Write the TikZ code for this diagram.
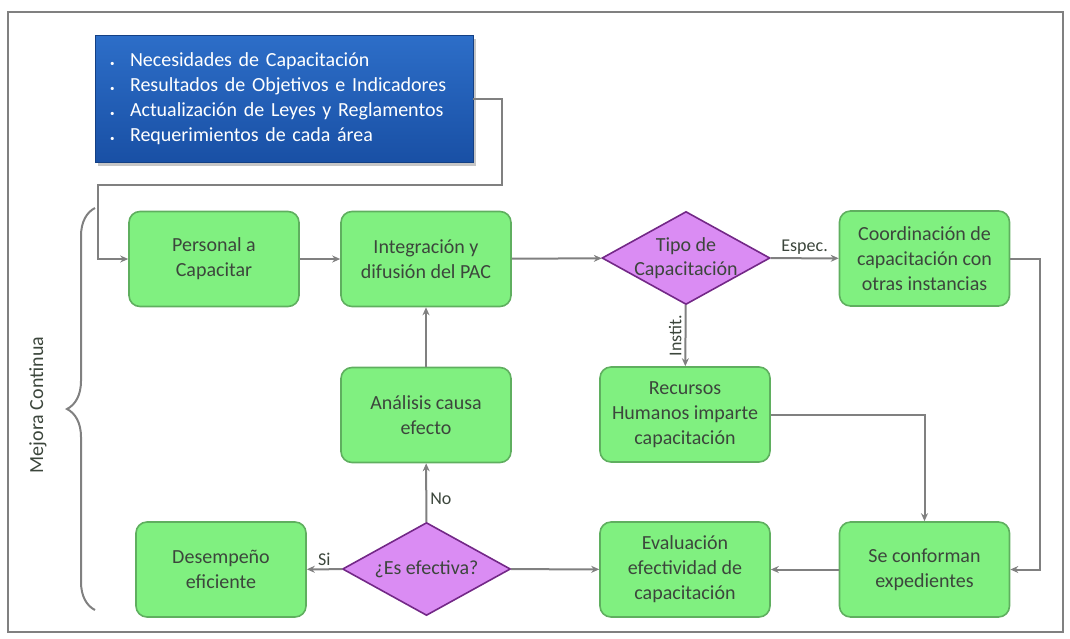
\documentclass[tikz,border=0pt]{standalone}
\usepackage{fontspec}
\setmainfont{Carlito}
\usetikzlibrary{arrows.meta,shapes.geometric,shadows,decorations.pathreplacing}

\definecolor{boxgreen}{RGB}{128,240,128}
\definecolor{boxedge}{RGB}{95,175,95}
\definecolor{diafill}{RGB}{218,140,243}
\definecolor{diaedge}{RGB}{115,40,135}
\definecolor{linegray}{RGB}{128,128,128}
\definecolor{bluetop}{RGB}{45,110,200}
\definecolor{bluebot}{RGB}{25,80,165}
\definecolor{textgray}{RGB}{60,70,60}

\tikzset{
  proc/.style={draw=boxedge, line width=1.6pt, fill=boxgreen, rounded corners=11pt,
    minimum width=170pt, minimum height=95pt, align=center, text=textgray,
    font=\fontsize{20}{25}\selectfont, inner sep=2pt},
  decide/.style={diamond, draw=diaedge, line width=1.6pt, fill=diafill,
    minimum width=168pt, minimum height=93pt, inner sep=0pt, align=center,
    text=textgray, font=\fontsize{20}{24}\selectfont},
  flow/.style={draw=linegray, line width=2pt, -{Stealth[length=8pt,width=7pt]}},
  lbl/.style={text=textgray, font=\fontsize{18}{20}\selectfont, inner sep=3pt},
}

\begin{document}
\begin{tikzpicture}[x=1pt,y=-1pt]
\useasboundingbox (0,0) rectangle (1070,638);
\draw[linegray, line width=1.5pt] (8,12) rectangle (1063,632);

\node[draw=bluebot!80!black, line width=0.8pt, top color=bluetop, bottom color=bluebot,
  drop shadow={opacity=0.45, shadow xshift=3pt, shadow yshift=-4pt},
  minimum width=378pt, minimum height=127pt, text width=348pt, align=left,
  inner sep=0pt, text=white, font=\fontsize{20}{25}\selectfont] (needs) at (284,98.5)
  {\makebox[20pt][l]{\small\textbullet}Necesidades de Capacitación\\
   \makebox[20pt][l]{\small\textbullet}Resultados de Objetivos e Indicadores\\
   \makebox[20pt][l]{\small\textbullet}Actualización de Leyes y Reglamentos\\
   \makebox[20pt][l]{\small\textbullet}Requerimientos de cada área};

\node[proc] (pers) at (214,259) {Personal a\\Capacitar};
\node[proc] (integ) at (426,259) {Integración y\\difusión del PAC};
\node[decide] (tipo) at (686,258) {\makebox[0pt]{Tipo de}\\\makebox[0pt]{Capacitación}};
\node[proc] (coord) at (924.5,258.5) {Coordinación de\\capacitación con\\otras instancias};
\node[proc] (rrhh) at (685,414.5) {Recursos\\Humanos imparte\\capacitación};
\node[proc] (causa) at (426,415) {Análisis causa\\efecto};
\node[proc] (expd) at (924.5,569.5) {Se conforman\\expedientes};
\node[proc] (evalu) at (685,569.5) {Evaluación\\efectividad de\\capacitación};
\node[decide] (efect) at (426.5,569) {\makebox[0pt]{¿Es efectiva?}};
\node[proc] (desemp) at (221,569.5) {Desempeño\\eficiente};

\draw[flow] (needs.east) -- ++(29,0) |- (98,185) |- (pers.west);
\draw[flow] (pers) -- (integ);
\draw[flow] (integ) -- (tipo);
\draw[flow] (tipo) -- node[lbl, above] {Espec.} (coord);
\draw[flow] (tipo) -- node[lbl, rotate=90, anchor=south] {Instit.} (rrhh);
\draw[flow] (coord.east) -- ++(30,0) |- (expd.east);
\draw[flow] (rrhh) -| (expd);
\draw[flow] (expd) -- (evalu);
\draw[flow] (efect) -- (evalu);
\draw[flow] (efect) -- node[lbl, above] {Si} (desemp);
\draw[flow] (efect) -- node[lbl, right, pos=0.4] {No} (causa);
\draw[flow] (causa) -- (integ);

\draw[linegray, line width=2pt, decorate, decoration={brace, amplitude=28pt}]
  (95,610) -- (95,208);
\node[lbl, rotate=90, font=\fontsize{20}{22}\selectfont] (mejora) at (38,405) {Mejora Continua};
\end{tikzpicture}
\end{document}
